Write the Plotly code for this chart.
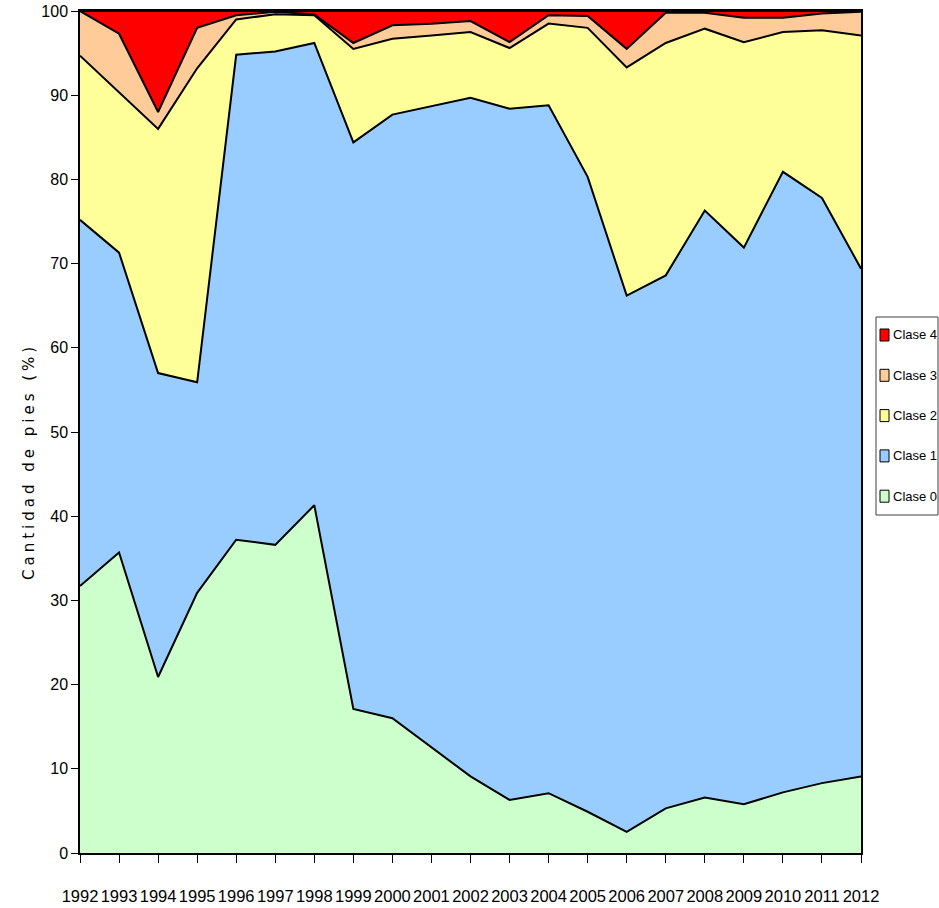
import plotly.graph_objects as go

years = list(range(1992, 2013))
clase0 = [31.7, 35.7, 20.9, 30.9, 37.2, 36.6, 41.3, 17.1, 16.0, 12.6, 9.1, 6.3, 7.1, 4.9, 2.5, 5.3, 6.6, 5.8, 7.2, 8.3, 9.1]
clase1 = [43.5, 35.6, 36.1, 25.0, 57.6, 58.6, 54.9, 67.3, 71.7, 76.1, 80.6, 82.1, 81.7, 75.4, 63.7, 63.3, 69.7, 66.1, 73.7, 69.5, 60.3]
clase2 = [19.5, 19.0, 29.0, 37.3, 4.2, 4.4, 3.3, 11.1, 9.0, 8.4, 7.8, 7.2, 9.7, 17.7, 27.1, 27.6, 21.6, 24.4, 16.6, 19.9, 27.7]
clase3 = [5.3, 7.0, 2.0, 4.8, 0.5, 0.3, 0.1, 0.7, 1.6, 1.4, 1.3, 0.7, 1.0, 1.4, 2.2, 3.6, 1.9, 2.9, 1.7, 2.0, 2.8]
clase4 = [0.0, 2.7, 12.0, 2.0, 0.5, 0.1, 0.4, 3.8, 1.7, 1.5, 1.2, 3.7, 0.5, 0.6, 4.5, 0.2, 0.2, 0.8, 0.8, 0.3, 0.1]

series_names = ["Clase 0", "Clase 1", "Clase 2", "Clase 3", "Clase 4"]
series_values = [clase0, clase1, clase2, clase3, clase4]
series_colors = ["#CCFFCC", "#99CCFF", "#FFFF99", "#FFCC99", "#FF0000"]
y_title = "Cantidad de pies (%)"

W, H = 939, 908
ML, MR, MT, MB = 80, 78, 11, 55
PW, PH = W - ML - MR, H - MT - MB

font_main = "Liberation Sans, Arial, sans-serif"

fig = go.Figure()
for name, vals, col in zip(series_names, series_values, series_colors):
    fig.add_trace(go.Scatter(
        x=years, y=vals, name=name, mode="lines",
        stackgroup="one", groupnorm="percent",
        fillcolor=col, line=dict(color="black", width=2),
        showlegend=False,
    ))

def px_x(p):
    return (p - ML) / PW

def px_y(p):
    return (H - MB - p) / PH

# Legend drawn as a boxed key (Clase 4 at top)
shapes = [dict(type="rect", xref="paper", yref="paper",
               x0=px_x(876), x1=px_x(938), y0=px_y(515), y1=px_y(317),
               line=dict(color="#404040", width=1), fillcolor="white", layer="above")]
annotations = []
for i, (name, col) in enumerate(reversed(list(zip(series_names, series_colors)))):
    cy = 335 + i * 40.3
    shapes.append(dict(type="rect", xref="paper", yref="paper",
                       x0=px_x(880), x1=px_x(889), y0=px_y(cy + 6), y1=px_y(cy - 6),
                       line=dict(color="black", width=1), fillcolor=col, layer="above"))
    annotations.append(dict(text=name, xref="paper", yref="paper",
                            x=px_x(891), y=px_y(cy), xanchor="left", yanchor="middle",
                            showarrow=False,
                            font=dict(family=font_main, size=13, color="black")))

# y-axis title
annotations.append(dict(text=y_title, xref="paper", yref="paper",
                        x=px_x(29), y=px_y(462), xanchor="center", yanchor="middle",
                        textangle=-90, showarrow=False,
                        font=dict(family="DejaVu Sans, Verdana, sans-serif", size=15, color="black")))

fig.update_layout(
    width=W, height=H,
    margin=dict(l=ML, r=MR, t=MT, b=MB),
    paper_bgcolor="white", plot_bgcolor="white",
    showlegend=False,
    shapes=shapes, annotations=annotations,
    xaxis=dict(
        range=[1992, 2012], tickmode="array", tickvals=years,
        ticktext=[str(y) for y in years], tickangle=0,
        ticks="outside", ticklen=8, tickcolor="black",
        showline=True, linecolor="black", linewidth=1.5, mirror=True,
        showgrid=False, zeroline=False, automargin=False,
        tickfont=dict(family=font_main, size=16.5, color="black"),
        ticklabelstandoff=19,
    ),
    yaxis=dict(
        range=[0, 100], tickmode="array", tickvals=list(range(0, 101, 10)),
        ticks="outside", ticklen=7, tickcolor="black",
        showline=True, linecolor="black", linewidth=1.5, mirror=True,
        showgrid=False, zeroline=False, automargin=False,
        tickfont=dict(family=font_main, size=16, color="black"),
    ),
)

post = (
    "document.body.style.margin='0';"
    "document.querySelectorAll('.annotation-text').forEach(function(t){"
    "if(t.textContent==='" + y_title + "'){t.setAttribute('letter-spacing','4px');}});"
)
fig.write_html("out.html", post_script=post, config={"displayModeBar": False})
